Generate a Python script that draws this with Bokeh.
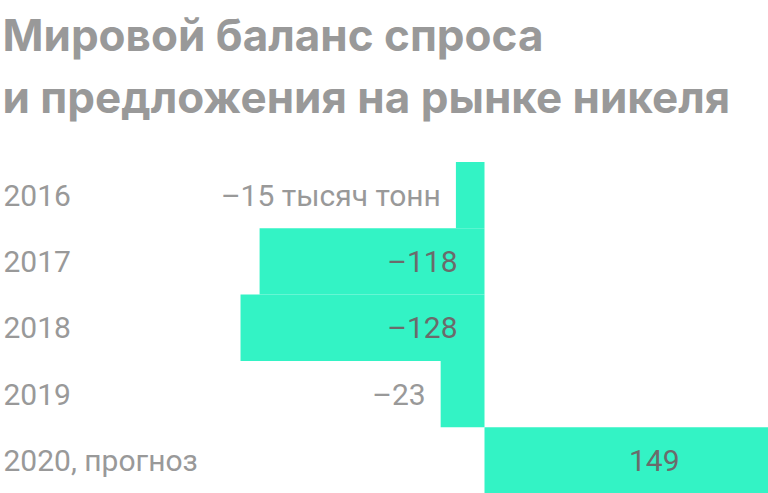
from bokeh.plotting import figure
from bokeh.models import Range1d, Label, ColumnDataSource
from bokeh.core.properties import value
from bokeh.embed import file_html
from bokeh.resources import INLINE

title_lines = ["Мировой баланс спроса", "и предложения на рынке никеля"]
categories = ["2016", "2017", "2018", "2019", "2020, прогноз"]
values = [-15, -118, -128, -23, 149]
value_labels = ["–15 тысяч тонн", "–118", "–128", "–23", "149"]

W, H = 768, 493
x_max = 149
px_per_unit = 284 / 149
x_min = x_max - W / px_per_unit
band_px = (H - 161.5) / len(categories)
y_bottom = len(categories) - 0.5
y_top = y_bottom - H / band_px

p = figure(width=W, height=H, output_backend="svg", toolbar_location=None,
           x_range=Range1d(x_min, x_max), y_range=Range1d(y_bottom, y_top),
           min_border=0, outline_line_color=None)
p.axis.visible = False
p.grid.visible = False
p.background_fill_color = "white"
p.border_fill_color = "white"

idx = list(range(len(categories)))
src = ColumnDataSource(dict(y=idx, v=values, left=[min(0, v) for v in values],
                            right=[max(0, v) for v in values]))
p.hbar(y="y", left="left", right="right", height=1.0, source=src,
       fill_color="#33f3c5", line_color=None)

p.text(x=[x_min] * len(categories), y=idx, text=categories, x_offset=3,
       text_font=value("Roboto"), text_font_size="30px", text_color="#999999",
       text_baseline="middle", text_align="left")

inside = [abs(v) > 100 for v in values]
lx, loff, lcol = [], [], []
for v, ins in zip(values, inside):
    if v > 0:
        lx.append(v); loff.append(-89); lcol.append("#6b6b6b")
    elif ins:
        lx.append(0); loff.append(-27); lcol.append("#6b6b6b")
    else:
        lx.append(v); loff.append(-15); lcol.append("#999999")
p.text(x=lx, y=idx, text=value_labels, x_offset=loff, text_color=lcol,
       text_font=value("Roboto"), text_font_size="30px", text_baseline="middle",
       text_align="right")

for t, base in zip(title_lines, [34, 96]):
    p.add_layout(Label(x=2, y=H - base, x_units="screen", y_units="screen",
                       text=t, text_font="Inter", text_font_size="44px",
                       text_font_style="bold", text_color="#999999",
                       text_baseline="alphabetic"))

open("out.html", "w").write(file_html(p, INLINE))
